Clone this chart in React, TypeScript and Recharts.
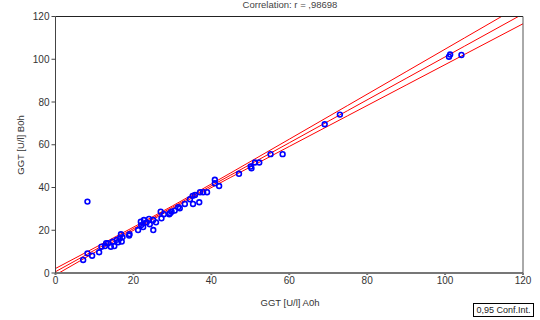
import React from 'react';
import { ComposedChart, Scatter, Line, XAxis, YAxis, CartesianGrid } from 'recharts';

const title = 'Correlation: r = ,98698';
const xLabel = 'GGT [U/l] A0h';
const yLabel = 'GGT [U/l] B0h';
const legendLabel = '0,95 Conf.Int.';

const ticks = [0, 20, 40, 60, 80, 100, 120];

const pointsA0h = [
  8.2, 7.1, 8.2, 9.4, 11.2, 11.8, 12.7, 13.5, 14.2, 14.7, 15.1, 15.7, 16.5, 16.8, 17.0, 16.1, 18.9, 19.0,
  21.2, 21.9, 22.0, 22.7, 23.4, 24.0, 24.2, 25.1, 25.1, 25.8, 27.0, 27.2, 27.8, 29.2, 29.4, 29.8, 30.6,
  31.5, 31.9, 33.2, 34.5, 35.2, 35.8, 35.3, 36.9, 37.1, 37.9, 38.9, 40.9, 40.9, 42.0, 47.1, 50.1, 50.3,
  51.2, 52.3, 55.2, 58.3, 69.1, 73.0, 101.0, 101.3, 104.2, 22.5, 17.2, 13.0,
];
const pointsB0h = [
  33.4, 6.1, 9.2, 8.1, 9.7, 12.3, 12.6, 13.9, 12.3, 14.7, 12.6, 15.5, 16.2, 18.1, 14.7, 14.4, 17.5, 18.2,
  20.1, 24.0, 22.4, 24.8, 23.7, 25.3, 22.8, 20.1, 24.8, 23.7, 28.7, 25.6, 27.5, 27.5, 28.0, 28.7, 29.2,
  30.8, 30.3, 32.3, 34.5, 36.1, 36.5, 32.3, 33.1, 37.8, 37.8, 37.8, 43.6, 42.0, 40.7, 46.4, 49.8, 49.0,
  51.7, 51.7, 55.6, 55.6, 69.6, 74.1, 101.2, 102.2, 102.0, 21.5, 16.8, 14.0,
];

const fitX = [0, 15, 30, 45, 60, 75, 90, 105, 120];
const fitCenter = [0.6, 15.68, 30.75, 45.83, 60.9, 75.98, 91.05, 106.13, 121.2];
const fitUpper = [2.11, 16.56, 31.36, 46.86, 62.6, 78.38, 94.18, 109.99, 125.8];
const fitLower = [-0.91, 14.79, 30.14, 44.79, 59.2, 73.57, 87.92, 102.26, 116.6];

const points = pointsA0h.map((x, i) => ({ x, y: pointsB0h[i] }));
const center = fitX.map((x, i) => ({ x, y: fitCenter[i] }));
const upper = fitX.map((x, i) => ({ x, y: fitUpper[i] }));
const lower = fitX.map((x, i) => ({ x, y: fitLower[i] }));

const font = '"Liberation Sans", Arial, sans-serif';

const Ring = (props: any) => {
  const { cx, cy } = props;
  if (cx == null || cy == null) return null;
  return <circle cx={cx} cy={cy} r={2.4} fill="none" stroke="#0000ff" strokeWidth={1.6} />;
};

const tickStyle = { fontSize: 10, fill: '#333', fontFamily: font };

export default function App() {
  return (
    <div style={{ position: 'absolute', left: 0, top: 0, width: 540, height: 320, background: '#fff', fontFamily: font }}>
      <ComposedChart width={540} height={320} margin={{ top: 0, right: 0, bottom: 0, left: 0 }}>
        <CartesianGrid stroke="#e0e0e0" strokeWidth={1.5} horizontalValues={[20, 40, 60, 80, 100]} verticalValues={[20, 40, 60, 80, 100]} />
        <XAxis
          xAxisId="b"
          type="number"
          dataKey="x"
          domain={[0, 120]}
          ticks={ticks}
          allowDataOverflow
          height={47}
          stroke="#777"
          strokeWidth={2}
          tickSize={2}
          tick={tickStyle}
        />
        <XAxis
          xAxisId="t"
          orientation="top"
          type="number"
          dataKey="x"
          domain={[0, 120]}
          ticks={ticks}
          height={16.5}
          stroke="#222"
          tickLine={false}
          tick={false}
        />
        <YAxis
          yAxisId="l"
          type="number"
          dataKey="y"
          domain={[0, 120]}
          ticks={ticks}
          allowDataOverflow
          width={55.5}
          stroke="#444"
          tickSize={4}
          tick={tickStyle}
        />
        <YAxis
          yAxisId="r"
          orientation="right"
          type="number"
          dataKey="y"
          domain={[0, 120]}
          ticks={ticks}
          width={17}
          stroke="#555"
          tickSize={3}
          tickFormatter={() => ''}
        />
        <Scatter xAxisId="b" yAxisId="l" data={points} shape={<Ring />} isAnimationActive={false} />
        <Line xAxisId="b" yAxisId="l" data={upper} dataKey="y" type="monotone" stroke="#ff0000" strokeWidth={1} dot={false} activeDot={false} isAnimationActive={false} />
        <Line xAxisId="b" yAxisId="l" data={center} dataKey="y" type="linear" stroke="#ff0000" strokeWidth={1} dot={false} activeDot={false} isAnimationActive={false} />
        <Line xAxisId="b" yAxisId="l" data={lower} dataKey="y" type="monotone" stroke="#ff0000" strokeWidth={1} dot={false} activeDot={false} isAnimationActive={false} />
      </ComposedChart>
      <div style={{ position: 'absolute', left: 0, width: 580, top: 0, lineHeight: '10px', textAlign: 'center', fontSize: 9.5, color: '#444', whiteSpace: 'nowrap' }}>{title}</div>
      <div style={{ position: 'absolute', left: 0, width: 580, top: 297, textAlign: 'center', fontSize: 9.5, color: '#333', whiteSpace: 'nowrap' }}>{xLabel}</div>
      <div style={{ position: 'absolute', left: 20, top: 145, transform: 'translate(-50%, -50%) rotate(-90deg)', fontSize: 9.5, color: '#333', whiteSpace: 'nowrap' }}>{yLabel}</div>
      <div style={{ position: 'absolute', left: 473, top: 303, width: 61, height: 14, border: '1px solid #000', boxSizing: 'border-box', fontSize: 9, color: '#222', lineHeight: '12px', textAlign: 'center', whiteSpace: 'nowrap' }}>{legendLabel}</div>
    </div>
  );
}
